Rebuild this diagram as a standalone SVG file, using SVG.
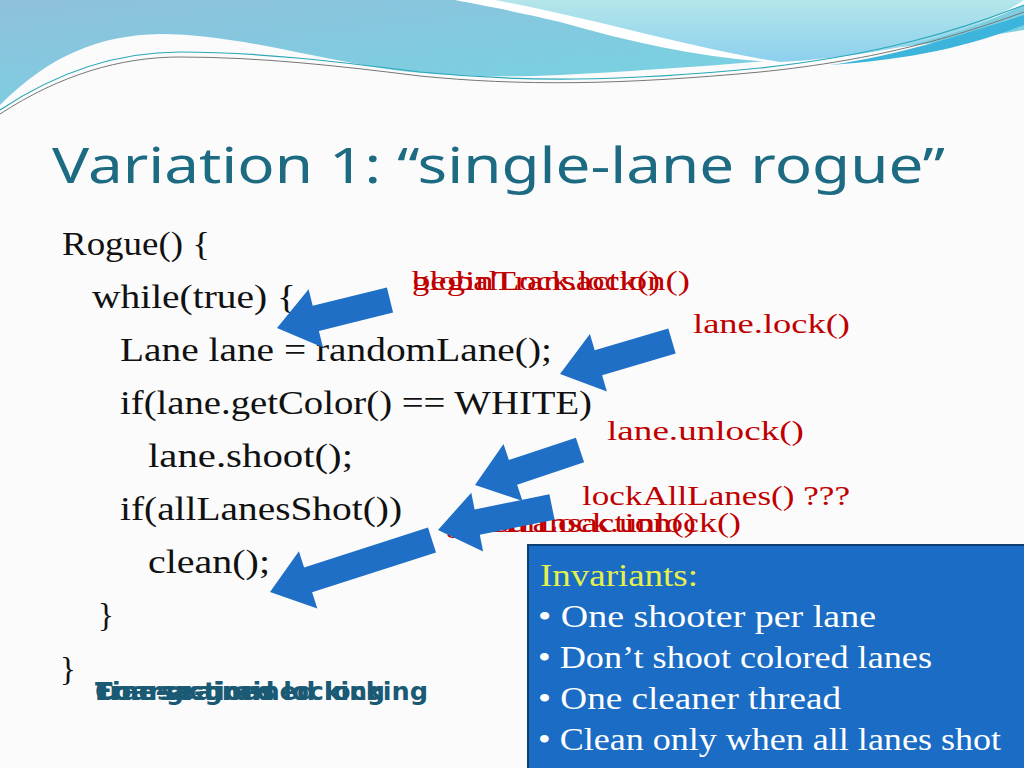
<svg xmlns="http://www.w3.org/2000/svg" width="1024" height="768" viewBox="0 0 1024 768">
<defs>
<linearGradient id="g1" x1="0" y1="0" x2="1" y2="1"><stop offset="0" stop-color="#8fc0dc"/><stop offset="1" stop-color="#6fd8e4"/></linearGradient>
<linearGradient id="g2" x1="0" y1="0" x2="0" y2="1"><stop offset="0" stop-color="#b4e6ea"/><stop offset="1" stop-color="#8cd0ee"/></linearGradient>
<style>
.code{font-family:"Liberation Serif",serif;font-size:33px;fill:#111}
.red{font-family:"Liberation Serif",serif;font-size:28px;fill:#c00000}
.arr{fill:#1f6fc6}
.inv{font-family:"Liberation Serif",serif;font-size:31px;fill:#fff}
.bot{font-family:"DejaVu Sans",sans-serif;font-weight:bold;font-size:24px;fill:#1b5a74}
</style>
</defs>
<rect width="1024" height="768" fill="#fbfbfb"/>
<path d="M0,105 C50,55 100,35 160,34 C230,34 300,55 380,68 C430,76 500,78 560,75 C680,68 830,60 1024,30 V0 H0 Z" fill="url(#g1)"/>
<path d="M455,0 H1024 V5 C960,35 880,55 800,63 C720,62 640,45 560,22 C510,10 480,5 455,0 Z" fill="#fff"/>
<path d="M495,0 H1024 C980,30 900,55 780,62 C700,50 600,20 495,0 Z" fill="url(#g2)"/>
<path d="M0,110 C60,70 120,52 180,52 C260,52 340,62 420,72 C520,82 620,82 760,68 C880,55 960,30 1024,5" fill="none" stroke="#2aa8b8" stroke-width="1.2"/>
<path d="M0,114 C60,75 120,57 180,57 C260,57 340,66 420,76 C520,86 620,85 760,72 C880,60 960,35 1024,12" fill="none" stroke="#777" stroke-width="1"/>
<path d="M830,65 C900,55 960,35 1024,15 V25 C960,50 900,60 830,65 Z" fill="#3cb4dc"/>
<text x="52" y="183" font-family="Noto Sans, sans-serif" font-size="50" fill="#1d6b82" textLength="893" lengthAdjust="spacingAndGlyphs">Variation 1: “single-lane rogue”</text>
<g id="code">
<text class="code" x="62" y="255" textLength="148" lengthAdjust="spacingAndGlyphs">Rogue() {</text>
<text class="code" x="92" y="308" textLength="204" lengthAdjust="spacingAndGlyphs">while(true) {</text>
<text class="code" x="120" y="361" textLength="432" lengthAdjust="spacingAndGlyphs">Lane lane = randomLane();</text>
<text class="code" x="120" y="414" textLength="472" lengthAdjust="spacingAndGlyphs">if(lane.getColor() == WHITE)</text>
<text class="code" x="148" y="467" textLength="205" lengthAdjust="spacingAndGlyphs">lane.shoot();</text>
<text class="code" x="120" y="520" textLength="282" lengthAdjust="spacingAndGlyphs">if(allLanesShot())</text>
<text class="code" x="148" y="573" textLength="122" lengthAdjust="spacingAndGlyphs">clean();</text>
<text class="code" x="98" y="626">}</text>
<text class="code" x="60" y="680">}</text>
</g>
<g id="labels">
<text class="red" x="412" y="290" textLength="248" lengthAdjust="spacingAndGlyphs">globalLock.lock()</text>
<text class="red" x="412" y="290" textLength="278" lengthAdjust="spacingAndGlyphs">beginTransaction()</text>
<text class="red" x="693" y="333" textLength="157" lengthAdjust="spacingAndGlyphs">lane.lock()</text>
<text class="red" x="607" y="440" textLength="197" lengthAdjust="spacingAndGlyphs">lane.unlock()</text>
<text class="red" x="582" y="505" textLength="268" lengthAdjust="spacingAndGlyphs">lockAllLanes() ???</text>
<text class="red" x="446" y="532" textLength="295" lengthAdjust="spacingAndGlyphs">globalLock.unlock()</text>
<text class="red" x="446" y="532" textLength="250" lengthAdjust="spacingAndGlyphs">endTransaction()</text>
</g>
<g id="connectors">
<polygon class="arr" points="386.9,287.4 312.7,305.8 308.6,289.3 277,328 323,347.5 318.9,331 393.1,312.6"/>
<polygon class="arr" points="668.3,328.5 594.7,350.2 589.9,333.9 560,374 606.9,391.5 602.1,375.2 675.7,353.5"/>
<polygon class="arr" points="575.9,437.7 508.9,460.1 503.5,443.9 475,485 522.5,500.9 517.1,484.7 584.1,462.3"/>
<polygon class="arr" points="549.4,494.3 474.6,509.4 471.3,492.7 438,530 483.1,551.5 479.8,534.8 554.6,519.7"/>
<polygon class="arr" points="428,527.6 304.1,567.4 298.9,551.2 270,592 317.3,608.4 312.1,592.2 436,552.4"/>
</g>
<g id="invariants">
<rect x="528" y="545" width="498" height="225" fill="#1a6cc4" stroke="#0f3f70" stroke-width="2"/>
<text x="540" y="586" font-family="Liberation Serif, serif" font-size="31" fill="#e6f04c" textLength="158" lengthAdjust="spacingAndGlyphs">Invariants:</text>
<text class="inv" x="538" y="627" textLength="338" lengthAdjust="spacingAndGlyphs">• One shooter  per lane</text>
<text class="inv" x="538" y="668" textLength="394" lengthAdjust="spacingAndGlyphs">• Don’t shoot colored lanes</text>
<text class="inv" x="538" y="709" textLength="303" lengthAdjust="spacingAndGlyphs">• One cleaner thread</text>
<text class="inv" x="538" y="750" textLength="463" lengthAdjust="spacingAndGlyphs">• Clean only when all lanes shot</text>
</g>
<g id="bottom">
<text class="bot" x="95" y="700" textLength="333" lengthAdjust="spacingAndGlyphs">Coarse-grained locking</text>
<text class="bot" x="95" y="700" textLength="290" lengthAdjust="spacingAndGlyphs">Fine-grained locking</text>
<text class="bot" x="95" y="700" textLength="180" lengthAdjust="spacingAndGlyphs">Transactions</text>
</g>
</svg>
